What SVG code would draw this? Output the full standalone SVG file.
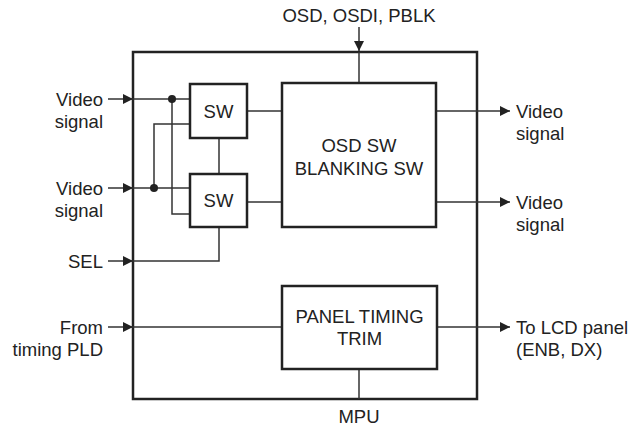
<svg xmlns="http://www.w3.org/2000/svg" width="643" height="428" viewBox="0 0 643 428">
<style>
.box{fill:#fff;stroke:#222;stroke-width:2.5}
.frame{fill:none;stroke:#222;stroke-width:2.5}
.ln{fill:none;stroke:#333;stroke-width:1.5}
.t{font-family:"Liberation Sans",Arial,sans-serif;font-size:18.5px;fill:#222}
.m{text-anchor:middle}
.e{text-anchor:end}
</style>
<defs>
<marker id="ah" markerUnits="userSpaceOnUse" markerWidth="11" markerHeight="10" refX="10" refY="5" orient="auto">
<path d="M0,0 L10,5 L0,10 Z" fill="#222"/>
</marker>
</defs>
<rect id="outer" class="frame" x="133" y="52" width="344" height="347"/>
<g id="connectors">
<path class="ln" d="M108,99 H133" marker-end="url(#ah)"/>
<path class="ln" d="M133,99 H190"/>
<path class="ln" d="M108,188 H133" marker-end="url(#ah)"/>
<path class="ln" d="M133,188 H190"/>
<path class="ln" d="M190,124 H154 V188"/>
<path class="ln" d="M172,99 V214 H190"/>
<path class="ln" d="M219,138 V174"/>
<path class="ln" d="M219,227 V261 H133"/>
<path class="ln" d="M108,261 H133" marker-end="url(#ah)"/>
<path class="ln" d="M247,111 H282"/>
<path class="ln" d="M247,202 H282"/>
<path class="ln" d="M436,111 H510" marker-end="url(#ah)"/>
<path class="ln" d="M436,202 H510" marker-end="url(#ah)"/>
<path class="ln" d="M359,27 V51" marker-end="url(#ah)"/>
<path class="ln" d="M359,52 V83"/>
<path class="ln" d="M108,327 H133" marker-end="url(#ah)"/>
<path class="ln" d="M133,327 H282"/>
<path class="ln" d="M437,327 H510" marker-end="url(#ah)"/>
<path class="ln" d="M359,369 V399"/>
<circle cx="172" cy="99" r="4" fill="#222"/>
<circle cx="154" cy="188" r="4" fill="#222"/>
</g>
<g id="sw1">
<rect class="box" x="190" y="84" width="57" height="54"/>
<text class="t m" x="218.5" y="117.5">SW</text>
</g>
<g id="sw2">
<rect class="box" x="190" y="174" width="57" height="53"/>
<text class="t m" x="218.5" y="207">SW</text>
</g>
<g id="osd">
<rect class="box" x="282" y="83" width="154" height="144"/>
<text class="t m" x="359" y="152">OSD SW</text>
<text class="t m" x="359" y="175">BLANKING SW</text>
</g>
<g id="panel">
<rect class="box" x="282" y="286" width="155" height="83"/>
<text class="t m" x="359.5" y="323">PANEL TIMING</text>
<text class="t m" x="359.5" y="345">TRIM</text>
</g>
<g id="labels">
<text class="t m" x="359" y="22">OSD, OSDI, PBLK</text>
<text class="t e" x="103" y="105.5">Video</text>
<text class="t e" x="103" y="128">signal</text>
<text class="t e" x="103" y="194.5">Video</text>
<text class="t e" x="103" y="217">signal</text>
<text class="t e" x="103" y="267.5">SEL</text>
<text class="t e" x="103" y="333.5">From</text>
<text class="t e" x="103" y="356">timing PLD</text>
<text class="t" x="516" y="117.5">Video</text>
<text class="t" x="516" y="140">signal</text>
<text class="t" x="516" y="208.5">Video</text>
<text class="t" x="516" y="231">signal</text>
<text class="t" x="516" y="333.5">To LCD panel</text>
<text class="t" x="516" y="356">(ENB, DX)</text>
<text class="t m" x="359" y="423">MPU</text>
</g>
</svg>
